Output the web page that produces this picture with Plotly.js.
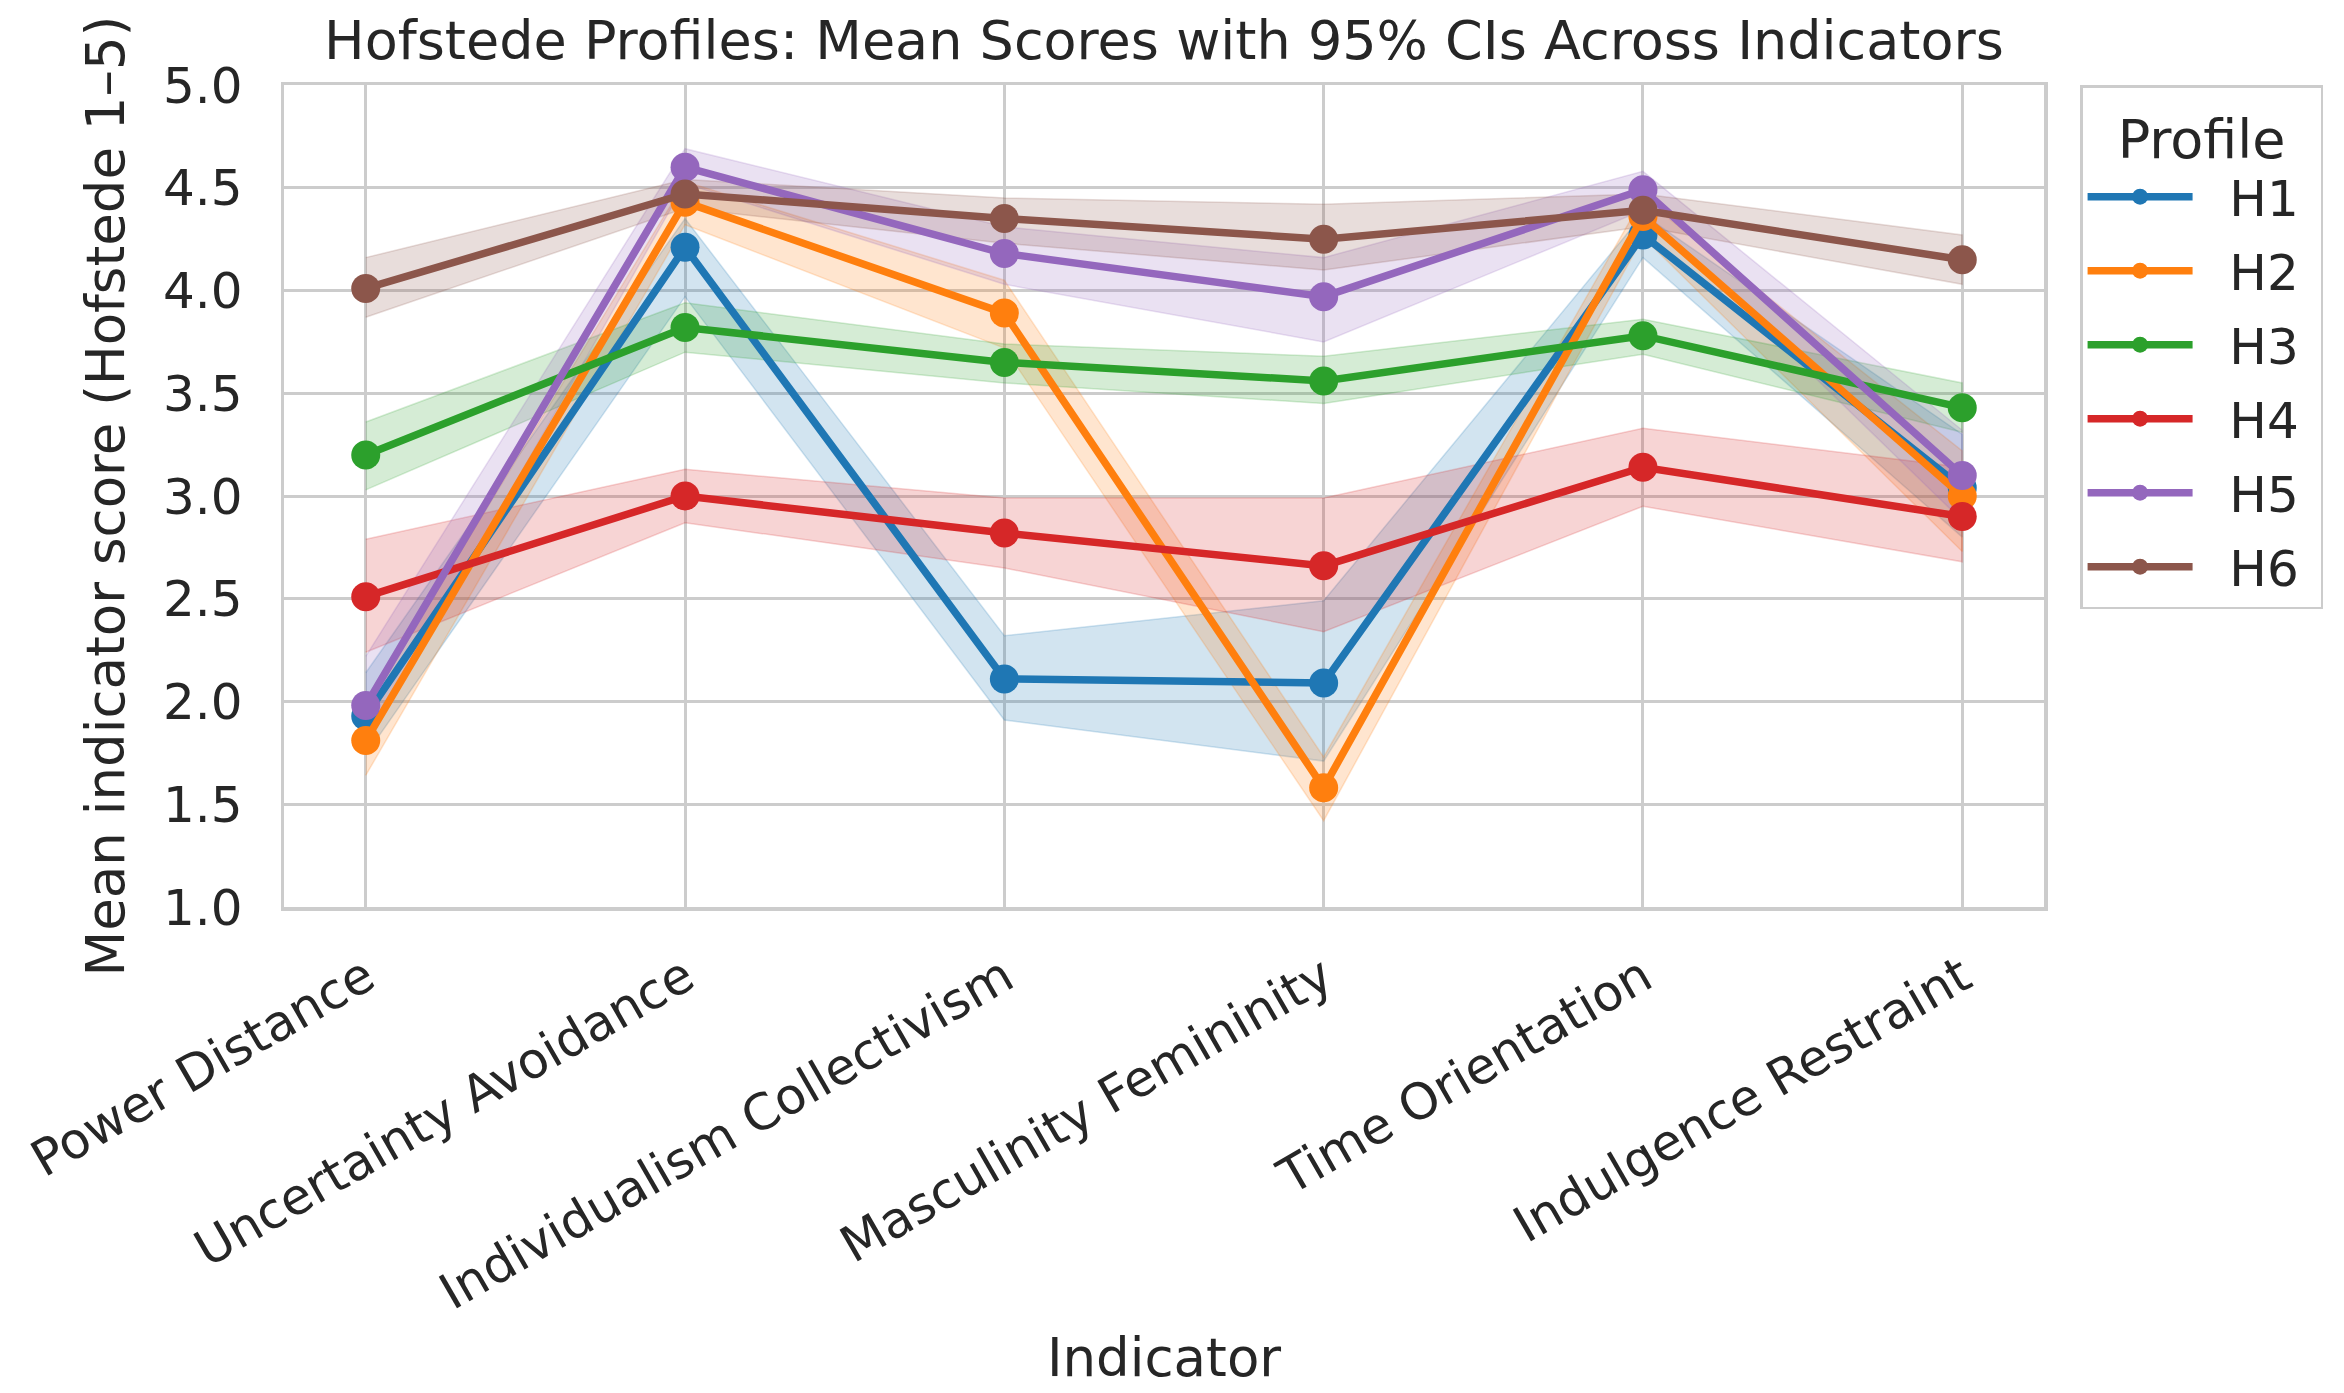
<!DOCTYPE html>
<html>
<head>
<meta charset="utf-8">
<script src="https://cdn.plot.ly/plotly-3.0.1.min.js"></script>
<style>
html,body{margin:0;padding:0;background:#fff;}
#chart{width:2344px;height:1393px;}
</style>
</head>
<body>
<div id="chart"></div>
<script>
const categories = ["Power Distance","Uncertainty Avoidance","Individualism Collectivism","Masculinity Femininity","Time Orientation","Indulgence Restraint"];
const profiles = ["H1","H2","H3","H4","H5","H6"];
const colors = ["#1f77b4","#ff7f0e","#2ca02c","#d62728","#9467bd","#8c564b"];

const h1Mean = [1.93, 4.21, 2.11, 2.09, 4.27, 3.04];
const h1Lo   = [1.74, 3.97, 1.91, 1.71, 4.16, 2.80];
const h1Hi   = [2.14, 4.35, 2.32, 2.49, 4.37, 3.30];

const h2Mean = [1.81, 4.43, 3.89, 1.58, 4.36, 3.00];
const h2Lo   = [1.64, 4.32, 3.72, 1.42, 4.26, 2.73];
const h2Hi   = [1.97, 4.53, 4.05, 1.73, 4.45, 3.22];

const h3Mean = [3.20, 3.82, 3.65, 3.56, 3.78, 3.43];
const h3Lo   = [3.03, 3.70, 3.55, 3.45, 3.69, 3.31];
const h3Hi   = [3.36, 3.94, 3.74, 3.68, 3.86, 3.55];

const h4Mean = [2.51, 3.00, 2.82, 2.66, 3.14, 2.90];
const h4Lo   = [2.24, 2.87, 2.65, 2.34, 2.95, 2.68];
const h4Hi   = [2.79, 3.13, 2.99, 2.99, 3.33, 3.14];

const h5Mean = [1.98, 4.60, 4.18, 3.97, 4.49, 3.10];
const h5Lo   = [1.78, 4.52, 4.03, 3.75, 4.39, 2.88];
const h5Hi   = [2.22, 4.69, 4.31, 4.16, 4.58, 3.32];

const h6Mean = [4.01, 4.47, 4.35, 4.25, 4.39, 4.15];
const h6Lo   = [3.87, 4.40, 4.23, 4.10, 4.31, 4.03];
const h6Hi   = [4.16, 4.54, 4.45, 4.42, 4.47, 4.27];

const yTicks = [1.0, 1.5, 2.0, 2.5, 3.0, 3.5, 4.0, 4.5, 5.0];

const means = [h1Mean,h2Mean,h3Mean,h4Mean,h5Mean,h6Mean];
const los = [h1Lo,h2Lo,h3Lo,h4Lo,h5Lo,h6Lo];
const his = [h1Hi,h2Hi,h3Hi,h4Hi,h5Hi,h6Hi];

function rgba(hex,a){
  const r=parseInt(hex.slice(1,3),16),g=parseInt(hex.slice(3,5),16),b=parseInt(hex.slice(5,7),16);
  return `rgba(${r},${g},${b},${a})`;
}

const traces = [];
profiles.forEach((p,i)=>{
  traces.push({
    type:'scatter', mode:'lines',
    x: categories.concat(categories.slice().reverse()),
    y: his[i].concat(los[i].slice().reverse()),
    fill:'toself', fillcolor: rgba(colors[i],0.2),
    line:{color: rgba(colors[i],0.2), width:1.5},
    showlegend:false, hoverinfo:'skip', legendgroup:p
  });
});
profiles.forEach((p,i)=>{
  traces.push({
    type:'scatter', mode:'lines+markers', name:'\u00a0\u00a0' + p + '\u00a0', legendgroup:p,
    x: categories, y: means[i],
    line:{color: colors[i], width:7.5},
    marker:{color: colors[i], size:29}
  });
});

const FONT = "DejaVu Sans, sans-serif";
const TXT = "#262626";
const layout = {
  width:2344, height:1393,
  paper_bgcolor:'#ffffff', plot_bgcolor:'#ffffff',
  margin:{l:284, r:300, t:85, b:486},
  font:{family:FONT, color:TXT, size:50},
  title:{text:"Hofstede Profiles: Mean Scores with 95% CIs Across Indicators",
    font:{family:FONT, size:54, color:TXT}, x:0.5, xref:'paper', xanchor:'center',
    y:1, yref:'paper', yanchor:'bottom', pad:{b:26}},
  xaxis:{
    type:'category', categoryorder:'array', categoryarray:categories,
    range:[-0.256, 5.256],
    showgrid:true, gridcolor:'#cccccc', gridwidth:3,
    showline:true, linecolor:'#cccccc', linewidth:3.5, mirror:true,
    ticks:'', tickangle:-30, ticklabelstandoff:18,
    tickfont:{family:FONT, size:50, color:TXT},
    zeroline:false,
    title:{text:"Indicator", font:{family:FONT, size:53, color:TXT}, standoff:19}
  },
  yaxis:{
    range:[1.0,5.0], tickvals:yTicks, ticktext:yTicks.map(v=>v.toFixed(1)),
    showgrid:true, gridcolor:'#cccccc', gridwidth:3,
    showline:true, linecolor:'#cccccc', linewidth:3.5, mirror:true,
    ticks:'', ticklabelstandoff:28,
    tickfont:{family:FONT, size:50, color:TXT},
    zeroline:false,
    title:{text:"Mean indicator score (Hofstede 1–5)", font:{family:FONT, size:53, color:TXT}, standoff:22}
  },
  legend:{
    x:1.0205, xanchor:'left', y:1.0, yanchor:'top',
    bgcolor:'#ffffff', bordercolor:'#cccccc', borderwidth:2.5,
    font:{family:FONT, size:50, color:TXT},
    title:{text:"Profile", font:{family:FONT, size:54, color:TXT}, side:'top center'},
    itemwidth:105, tracegroupgap:6, traceorder:'grouped'
  },
  showlegend:true
};

Plotly.newPlot('chart', traces, layout, {displayModeBar:false, staticPlot:true});
</script>
</body>
</html>
